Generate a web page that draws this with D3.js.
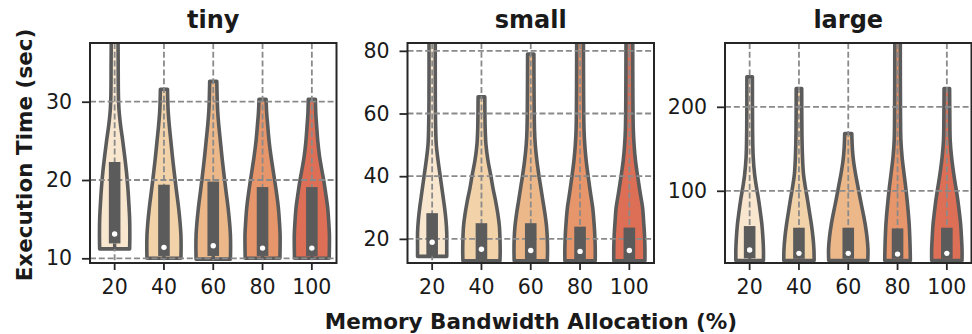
<!DOCTYPE html>
<html>
<head>
<meta charset="utf-8">
<script src="https://cdn.jsdelivr.net/npm/d3@7"></script>
<style>
  body { margin: 0; background: #fff; }
  text { font-family: "DejaVu Sans", sans-serif; fill: #1a1a1a; }
</style>
</head>
<body>
<svg id="chart" width="972" height="334"></svg>
<script>
// categories
const allocations = ["20", "40", "60", "80", "100"];
const panelTitles = ["tiny", "small", "large"];

// axis limits and ticks per panel
const tinyDomain = [9.4, 37.5];
const smallDomain = [12.3, 82.5];
const largeDomain = [14, 276];
const tinyTicks = [10, 20, 30];
const smallTicks = [20, 40, 60, 80];
const largeTicks = [100, 200];

// box stats (sec)
const tinyQ1 = [11.9, 10.3, 10.3, 10.3, 10.3];
const tinyMedian = [13.1, 11.4, 11.6, 11.3, 11.3];
const tinyQ3 = [22.3, 19.4, 19.8, 19.1, 19.1];
const smallQ1 = [14.6, 13.3, 13.3, 13.3, 13.3];
const smallMedian = [18.9, 16.7, 16.3, 16.0, 16.3];
const smallQ3 = [28.2, 25.0, 25.0, 23.9, 23.6];
const largeQ1 = [19.6, 19, 19, 19, 19];
const largeMedian = [29.4, 25.5, 25.5, 24.6, 25.5];
const largeQ3 = [58, 56, 56, 55.2, 56];

// violin density profiles: [value, relative density]
const tinyDensity = [
  [[11.2,0.76],[13,0.77],[15,0.76],[17,0.72],[19,0.67],[21,0.6],[23,0.51],[25,0.41],[27,0.3],[29,0.22],[31,0.19],[35,0.18],[38.5,0.17]],
  [[10,0.86],[11.5,0.87],[13,0.86],[14.5,0.82],[16.5,0.74],[18.5,0.64],[21,0.52],[23,0.43],[25,0.35],[27,0.27],[29,0.21],[31.6,0.18]],
  [[9.9,0.87],[11.5,0.88],[13,0.87],[14.5,0.83],[16.5,0.75],[18.5,0.65],[21,0.53],[23,0.44],[25,0.36],[27,0.28],[29,0.22],[32.6,0.18]],
  [[10,0.88],[11.5,0.89],[13,0.89],[14.5,0.86],[16.5,0.8],[18.5,0.7],[20,0.61],[21.5,0.52],[23,0.43],[25,0.33],[27,0.26],[28.5,0.21],[30.3,0.18]],
  [[10,0.88],[11.5,0.89],[13,0.89],[14.5,0.86],[16.5,0.8],[18.5,0.69],[20,0.6],[21.5,0.49],[23,0.39],[25,0.3],[27,0.24],[28.5,0.2],[30.3,0.18]]
];
const smallDensity = [
  [[14.4,0.74],[18,0.74],[22,0.74],[26,0.7],[30,0.63],[35,0.52],[40,0.41],[45,0.3],[50,0.21],[55,0.18],[65,0.16],[86,0.16]],
  [[13,0.94],[16,0.95],[20,0.94],[24,0.91],[28,0.83],[32,0.72],[36,0.59],[40,0.48],[45,0.33],[50,0.23],[55,0.19],[65.3,0.17]],
  [[13,0.84],[16,0.85],[20,0.84],[24,0.8],[28,0.72],[32,0.62],[36,0.52],[40,0.42],[45,0.31],[50,0.23],[55,0.19],[65,0.17],[79,0.16]],
  [[13,0.77],[17,0.77],[21,0.75],[25,0.71],[30,0.64],[35,0.52],[40,0.41],[45,0.31],[50,0.24],[55,0.2],[65,0.18],[86,0.17]],
  [[13,0.79],[17,0.79],[21,0.77],[25,0.73],[30,0.67],[35,0.54],[40,0.42],[45,0.31],[50,0.24],[55,0.2],[65,0.18],[86,0.17]]
];
const largeDensity = [
  [[17,0.7],[30,0.7],[45,0.67],[60,0.62],[75,0.54],[90,0.45],[105,0.34],[120,0.25],[140,0.18],[170,0.15],[235.7,0.14]],
  [[17,0.77],[30,0.76],[45,0.71],[60,0.63],[75,0.53],[90,0.43],[105,0.32],[120,0.23],[140,0.18],[170,0.15],[221.9,0.14]],
  [[17,0.99],[30,1],[45,0.95],[60,0.86],[75,0.74],[90,0.61],[105,0.49],[120,0.37],[135,0.27],[150,0.21],[168.3,0.18]],
  [[17,0.65],[30,0.64],[45,0.62],[60,0.59],[75,0.54],[90,0.48],[105,0.41],[120,0.33],[140,0.23],[160,0.17],[190,0.15],[285,0.14]],
  [[17,0.77],[30,0.77],[45,0.74],[60,0.7],[75,0.63],[90,0.55],[105,0.45],[120,0.35],[140,0.24],[160,0.17],[190,0.15],[221.9,0.14]]
];

const panels = [
  { title: panelTitles[0], domain: tinyDomain, ticks: tinyTicks, q1: tinyQ1, med: tinyMedian, q3: tinyQ3, dens: tinyDensity },
  { title: panelTitles[1], domain: smallDomain, ticks: smallTicks, q1: smallQ1, med: smallMedian, q3: smallQ3, dens: smallDensity },
  { title: panelTitles[2], domain: largeDomain, ticks: largeTicks, q1: largeQ1, med: largeMedian, q3: largeQ3, dens: largeDensity }
];

const colors = ["#f8e6cf", "#f2d2a9", "#ecb88a", "#e7956a", "#dd6f56"];
const gray = "#5b5b5b";

const marginLeft = 90, panelW = 246.5, gap = 71, plotTop = 43, plotBottom = 263;

const svg = d3.select("#chart");

panels.forEach((p, pi) => {
  const x0 = marginLeft + pi * (panelW + gap);
  const x = d3.scaleBand().domain(allocations).range([x0, x0 + panelW]).padding(0);
  const y = d3.scaleLinear().domain(p.domain).range([plotBottom, plotTop]);
  const w = d3.scaleLinear().domain([0, 1]).range([0, x.bandwidth() * 0.4]);

  const g = svg.append("g");
  const clipId = "clip" + pi;
  g.append("clipPath").attr("id", clipId)
    .append("rect").attr("x", x0).attr("y", plotTop).attr("width", panelW).attr("height", plotBottom - plotTop);

  const plot = g.append("g").attr("clip-path", `url(#${clipId})`);

  // violins
  allocations.forEach((a, i) => {
    const cx = x(a) + x.bandwidth() / 2;
    const area = d3.area()
      .y(d => y(d[0]))
      .x0(d => cx - w(d[1]))
      .x1(d => cx + w(d[1]))
      .curve(d3.curveCatmullRom.alpha(0.5));
    plot.append("path")
      .attr("d", area(p.dens[i]))
      .attr("fill", colors[i])
      .attr("stroke", gray)
      .attr("stroke-width", 3.6)
      .attr("stroke-linejoin", "round");
  });

  // grid (above violins, below boxes)
  plot.selectAll(".hgrid").data(p.ticks).enter().append("line")
    .attr("x1", x0).attr("x2", x0 + panelW)
    .attr("y1", d => y(d)).attr("y2", d => y(d))
    .attr("stroke", "#8a8a8a").attr("stroke-width", 1.8)
    .attr("stroke-dasharray", "6,2.8");
  plot.selectAll(".vgrid").data(allocations).enter().append("line")
    .attr("x1", d => x(d) + x.bandwidth() / 2).attr("x2", d => x(d) + x.bandwidth() / 2)
    .attr("y1", plotTop).attr("y2", plotBottom)
    .attr("stroke", "#8a8a8a").attr("stroke-width", 1.8)
    .attr("stroke-dasharray", "6,2.8");

  // boxes
  allocations.forEach((a, i) => {
    const cx = x(a) + x.bandwidth() / 2;
    const vmin = p.dens[i][0][0];
    plot.append("line")
      .attr("x1", cx).attr("x2", cx)
      .attr("y1", y(vmin)).attr("y2", y(p.q1[i]))
      .attr("stroke", gray).attr("stroke-width", 3.4);
    plot.append("rect")
      .attr("x", cx - 5.8).attr("width", 11.6)
      .attr("y", y(p.q3[i])).attr("height", y(p.q1[i]) - y(p.q3[i]))
      .attr("fill", gray);
    plot.append("circle")
      .attr("cx", cx).attr("cy", y(p.med[i])).attr("r", 2.7)
      .attr("fill", "#fff");
  });

  // frame
  g.append("rect")
    .attr("x", x0).attr("y", plotTop).attr("width", panelW).attr("height", plotBottom - plotTop)
    .attr("fill", "none").attr("stroke", "#262626").attr("stroke-width", 2);

  // axes
  const yAxis = d3.axisLeft(y).tickValues(p.ticks).tickSize(8).tickPadding(10);
  const ya = g.append("g").attr("transform", `translate(${x0},0)`).call(yAxis);
  const xAxis = d3.axisBottom(x).tickSize(7).tickPadding(9);
  const xa = g.append("g").attr("transform", `translate(0,${plotBottom})`).call(xAxis);
  [ya, xa].forEach(ax => {
    ax.select(".domain").remove();
    ax.selectAll(".tick line").attr("stroke", "#262626").attr("stroke-width", 1.8);
    ax.selectAll(".tick text").attr("font-size", "20.5px").attr("fill", "#1a1a1a")
      .style("font-family", "'DejaVu Sans', sans-serif");
  });

  g.append("text")
    .attr("x", x0 + panelW / 2).attr("y", 28)
    .attr("text-anchor", "middle")
    .attr("font-size", "24px").attr("font-weight", "bold")
    .text(p.title);
});

svg.append("text")
  .attr("x", 531).attr("y", 329)
  .attr("text-anchor", "middle")
  .attr("font-size", "21.5px").attr("font-weight", "bold")
  .text("Memory Bandwidth Allocation (%)");

svg.append("text")
  .attr("transform", "translate(32,155) rotate(-90)")
  .attr("text-anchor", "middle")
  .attr("font-size", "21.5px").attr("font-weight", "bold")
  .text("Execution Time (sec)");
</script>
</body>
</html>
